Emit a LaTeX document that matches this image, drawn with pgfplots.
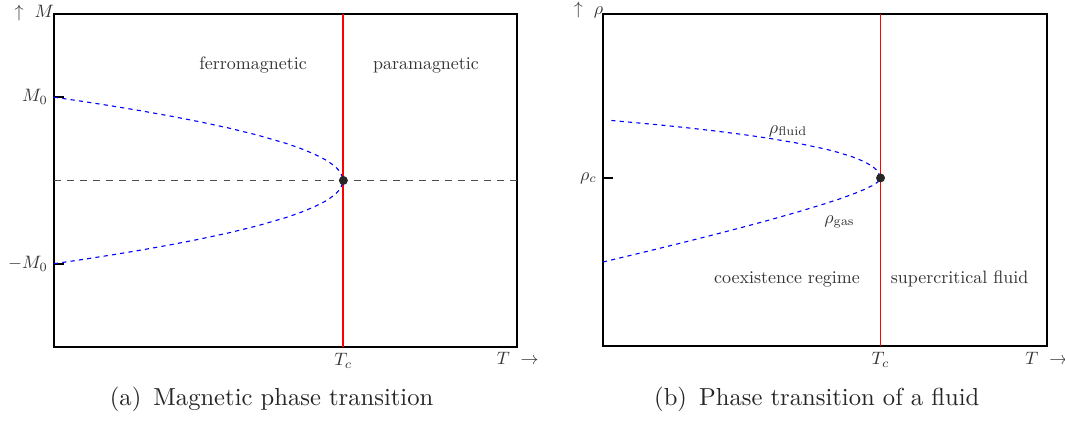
\documentclass[border=0pt]{standalone}
\usepackage{pgfplots}
\pgfplotsset{compat=1.18}
\tikzset{
  lbl/.style={font=\fontsize{10}{12}\selectfont, scale=0.73, text=black!80},
}
\pgfplotsset{
  phase/.style={
    scale only axis, clip=false,
    axis line style={line width=0.8pt},
    xmin=0, xmax=1.6,
    tick label style={font=\fontsize{10}{12}\selectfont, scale=0.73, text=black!80},
    xtick={1}, xticklabels={$T_c$},
    x tick style={draw=none},
    y tick style={line width=0.8pt, black},
    xtick pos=bottom, ytick pos=left, tick align=inside,
    major tick length=4pt,
  },
  crit/.style={color=red, solid, line width=0.75pt},
  branch/.style={blue, line width=0.45pt, dash pattern=on 1.7pt off 1.7pt},
  cpoint/.style={only marks, mark=*, mark size=1.6pt, black!85},
}
\begin{document}
\begin{tikzpicture}
\useasboundingbox (0pt,0pt) rectangle (432.9pt,172.76pt);

% (a) magnetisation
\begin{axis}[phase, at={(21.95pt,31.71pt)}, anchor=south west,
  width=188.2pt, height=135.4pt, ymin=-2, ymax=2,
  ytick={-1,1}, yticklabels={$-M_0$,$M_0$}]
  \addplot[crit] coordinates {(1,-2) (1,2)};
  \addplot[color=black!70, line width=0.5pt, dash pattern=on 2.7pt off 2.6pt] coordinates {(0,0) (1.6,0)};
  \addplot[branch] coordinates {
    (0,1) (0.1,0.9487) (0.2,0.8944) (0.3,0.8367) (0.4,0.7746) (0.5,0.7071)
    (0.6,0.6325) (0.7,0.5477) (0.8,0.4472) (0.85,0.3873) (0.9,0.3162)
    (0.94,0.2449) (0.97,0.1732) (0.99,0.1) (1,0)};
  \addplot[branch] coordinates {
    (0,-1) (0.1,-0.9487) (0.2,-0.8944) (0.3,-0.8367) (0.4,-0.7746) (0.5,-0.7071)
    (0.6,-0.6325) (0.7,-0.5477) (0.8,-0.4472) (0.85,-0.3873) (0.9,-0.3162)
    (0.94,-0.2449) (0.97,-0.1732) (0.99,-0.1) (1,0)};
  \addplot[cpoint] coordinates {(1,0)};
  \node[lbl, anchor=base] at (axis cs:0.688,1.336) {ferromagnetic};
  \node[lbl, anchor=base] at (axis cs:1.2855,1.336) {paramagnetic};
  \node[lbl, anchor=base, xshift=-11pt, yshift=-1.75pt] at (rel axis cs:0,1) {$\uparrow\ M$};
  \node[lbl, anchor=base, xshift=0.4pt, yshift=-9.76pt] at (rel axis cs:1,0) {$T\ \rightarrow$};
\end{axis}

% (b) liquid-gas coexistence
\begin{axis}[phase, at={(245.1pt,32.11pt)}, anchor=south west,
  width=180.5pt, height=135.0pt, ymin=0, ymax=1,
  ytick={0.506}, yticklabels={$\rho_c$}]
  \addplot[crit] coordinates {(1,0) (1,1)};
  \addplot[branch] coordinates {
    (0.03,0.679) (0.1,0.6737) (0.2,0.6660) (0.3,0.6574) (0.4,0.6479) (0.5,0.6373)
    (0.6,0.6252) (0.7,0.6109) (0.8,0.5933) (0.85,0.5824) (0.9,0.5692)
    (0.94,0.5556) (0.97,0.5415) (0.99,0.5268) (1,0.506)};
  \addplot[branch] coordinates {
    (0,0.253) (0.1,0.273) (0.2,0.2933) (0.3,0.314) (0.4,0.3352) (0.5,0.3569)
    (0.6,0.3795) (0.7,0.4031) (0.8,0.4285) (0.85,0.4422) (0.9,0.4571)
    (0.94,0.4707) (0.97,0.4828) (0.99,0.4937) (1,0.506)};
  \addplot[cpoint] coordinates {(1,0.506)};
  \node[lbl, anchor=base] at (axis cs:0.667,0.641) {$\rho_{\mathrm{fluid}}$};
  \node[lbl, anchor=base] at (axis cs:0.852,0.3696) {$\rho_{\mathrm{gas}}$};
  \node[lbl, anchor=base] at (axis cs:0.663,0.187) {coexistence regime};
  \node[lbl, anchor=base] at (axis cs:1.285,0.187) {supercritical fluid};
  \node[lbl, anchor=base, xshift=-8.1pt, yshift=-0.4pt] at (rel axis cs:0,1) {$\uparrow\ \rho$};
  \node[lbl, anchor=base, xshift=-0.4pt, yshift=-10.2pt] at (rel axis cs:1,0) {$T\ \rightarrow$};
\end{axis}

\node[anchor=base, text=black!85] at (110.4pt,8.1pt) {(a)\hspace{4.9pt}Magnetic phase transition};
\node[anchor=base, text=black!85] at (332.0pt,8.1pt) {(b)\hspace{4.9pt}Phase transition of a fluid};
\end{tikzpicture}
\end{document}
